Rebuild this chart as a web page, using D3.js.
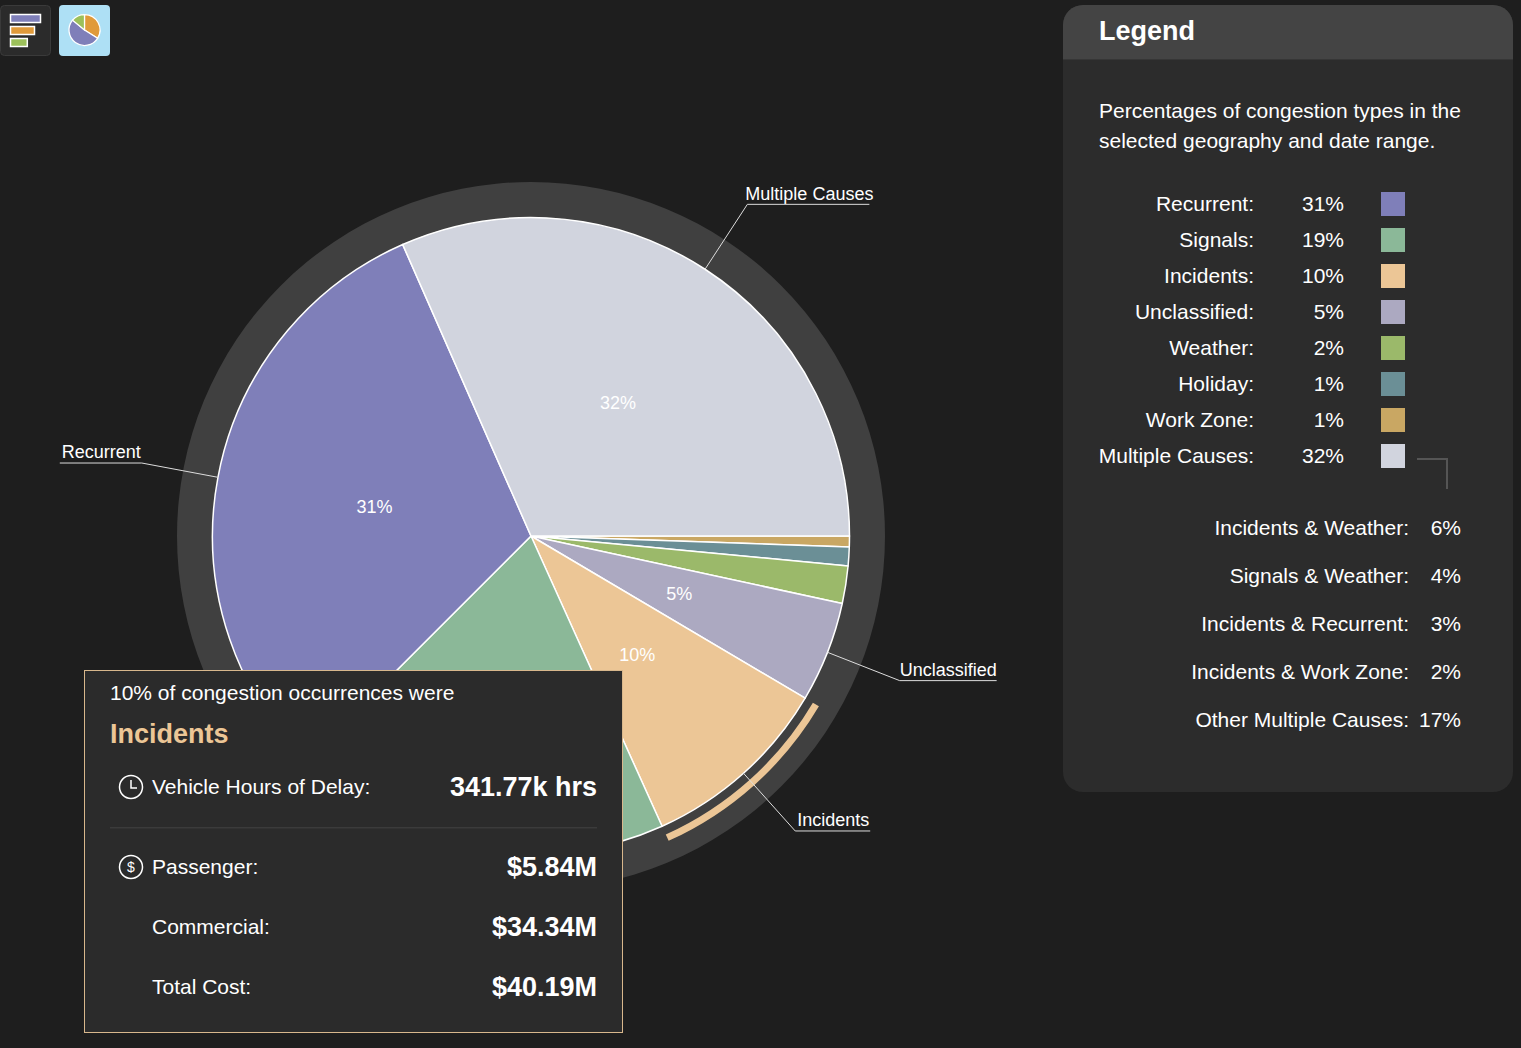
<!DOCTYPE html>
<html>
<head>
<meta charset="utf-8">
<script src="https://cdnjs.cloudflare.com/ajax/libs/d3/7.8.5/d3.min.js"></script>
<style>
  html, body { margin: 0; padding: 0; background: #1e1e1e; overflow: hidden; }
  svg { display: block; font-family: "Liberation Sans", Arial, sans-serif; }
  text { fill: #fff; }
</style>
</head>
<body>
<svg width="1521" height="1048"></svg>
<script>
// slices, clockwise from 3 o'clock
var categories = ['Work Zone', 'Holiday', 'Weather', 'Unclassified', 'Incidents', 'Signals', 'Recurrent', 'Multiple Causes'];
var shares     = [0.55, 0.95, 1.9, 5.1, 9.75, 19.25, 30.9, 31.6];
var colors     = ['#c9a763', '#6b8f96', '#9bb96a', '#aca9c1', '#ecc696', '#8bb898', '#7f7fb9', '#d1d4de'];

// labels outside the pie and inside the slices
var calloutNames = ['Multiple Causes', 'Recurrent', 'Unclassified', 'Incidents'];
var insideNames  = ['Multiple Causes', 'Recurrent', 'Unclassified', 'Incidents'];
var activeName   = 'Incidents';

// legend
var legendOrder  = ['Recurrent', 'Signals', 'Incidents', 'Unclassified', 'Weather', 'Holiday', 'Work Zone', 'Multiple Causes'];
var multiNames   = ['Incidents & Weather', 'Signals & Weather', 'Incidents & Recurrent', 'Incidents & Work Zone', 'Other Multiple Causes'];
var multiValues  = [6, 4, 3, 2, 17];

// tooltip
var tipLabels = ['Vehicle Hours of Delay:', 'Passenger:', 'Commercial:', 'Total Cost:'];
var tipValues = ['341.77k hrs', '$5.84M', '$34.34M', '$40.19M'];

// toolbar icons
var iconBars   = [100, 80, 56];
var iconSlices = [34, 52, 14];
var iconColors = ['#7f7fb9', '#e09a3a', '#9cc05a'];

var svg = d3.select('svg');
var fmt = d3.format('.0%');
var shareOf = function(name) { return shares[categories.indexOf(name)]; };
var colorOf = d3.scaleOrdinal().domain(categories).range(colors);

//----- pie
var cx = 531, cy = 536, radius = 318.5;
var g = svg.append('g').attr('transform', 'translate(' + cx + ',' + cy + ')');

var pie = d3.pie()
  .sort(null)
  .startAngle(Math.PI / 2)
  .endAngle(Math.PI * 2.5)
  .value(function(d) { return d.value; });

var arcs = pie(categories.map(function(c, i) { return { name: c, value: shares[i] }; }));

var arc = d3.arc().innerRadius(0).outerRadius(radius);
var ring = d3.arc().innerRadius(radius).outerRadius(354).startAngle(0).endAngle(Math.PI * 2);
var edge = d3.arc().innerRadius(radius).outerRadius(radius);
var elbow = d3.arc().innerRadius(396).outerRadius(396);
var highlight = d3.arc().innerRadius(327.5).outerRadius(334.5);

g.append('path').attr('d', ring()).attr('fill', '#404040');

g.selectAll('.slice')
  .data(arcs)
  .enter().append('path')
    .attr('class', 'slice')
    .attr('d', arc)
    .attr('fill', function(d) { return colorOf(d.data.name); })
    .attr('stroke', '#fff')
    .attr('stroke-width', 1.5)
    .attr('stroke-linejoin', 'round');

g.selectAll('.highlight')
  .data(arcs.filter(function(d) { return d.data.name === activeName; }))
  .enter().append('path')
    .attr('class', 'highlight')
    .attr('d', highlight)
    .attr('fill', function(d) { return colorOf(d.data.name); });

g.selectAll('.pct')
  .data(arcs.filter(function(d) { return insideNames.indexOf(d.data.name) >= 0; }))
  .enter().append('text')
    .attr('class', 'pct')
    .attr('transform', function(d) { return 'translate(' + arc.centroid(d) + ')'; })
    .attr('dy', '0.33em')
    .attr('text-anchor', 'middle')
    .style('font-size', '18px')
    .text(function(d) { return fmt(d.data.value / 100); });

// callouts: leader from the slice edge to an elbow, then an underline below the name
// dx, dy = text offset from the elbow, len = underline length
var calloutLayout = {
  'Multiple Causes': { dx: -2, dy: -4.5, len: 122 },
  'Recurrent':       { dx: -1, dy: -5.5, len: 82 },
  'Unclassified':    { dx: 0,  dy: -4.5, len: 97 },
  'Incidents':       { dx: 2,  dy: -4.5, len: 75 }
};

var callouts = g.selectAll('.callout')
  .data(arcs.filter(function(d) { return calloutNames.indexOf(d.data.name) >= 0; }))
  .enter().append('g')
    .attr('class', 'callout');

callouts.append('text')
  .attr('x', function(d) { return elbow.centroid(d)[0] + calloutLayout[d.data.name].dx; })
  .attr('y', function(d) { return elbow.centroid(d)[1] + calloutLayout[d.data.name].dy; })
  .attr('text-anchor', function(d) { return elbow.centroid(d)[0] < 0 ? 'end' : 'start'; })
  .style('font-size', '18px')
  .text(function(d) { return d.data.name; });

callouts.append('polyline')
  .attr('fill', 'none')
  .attr('stroke', '#ddd')
  .attr('stroke-width', 1)
  .attr('points', function(d) {
    var a = edge.centroid(d), b = elbow.centroid(d);
    var dir = b[0] < 0 ? -1 : 1;
    return [a, b, [b[0] + dir * calloutLayout[d.data.name].len, b[1]]].join(' ');
  });

//----- toolbar
var toolbar = svg.append('g');
toolbar.append('rect').attr('x', 0.5).attr('y', 5.5).attr('width', 50).attr('height', 50).attr('rx', 4)
  .attr('fill', '#2b2b2b').attr('stroke', '#3a3a3a');
toolbar.append('rect').attr('x', 59).attr('y', 5).attr('width', 51).attr('height', 51).attr('rx', 4)
  .attr('fill', '#aee0f5');

var iconX = d3.scaleLinear().domain([0, 100]).range([0, 30]);
toolbar.selectAll('.icon-bar')
  .data(iconBars)
  .enter().append('rect')
    .attr('class', 'icon-bar')
    .attr('x', 10.5)
    .attr('y', function(d, i) { return 14.5 + i * 12; })
    .attr('width', iconX)
    .attr('height', 8)
    .attr('fill', function(d, i) { return iconColors[i]; })
    .attr('stroke', '#fff')
    .attr('stroke-width', 1.5);

var iconPie = d3.pie().sort(null).value(function(d) { return d; });
var iconArc = d3.arc().innerRadius(0).outerRadius(15.5);
var iconFill = [iconColors[1], iconColors[0], iconColors[2]];
toolbar.append('g').attr('transform', 'translate(84.5,30)')
  .selectAll('path')
  .data(iconPie(iconSlices))
  .enter().append('path')
    .attr('d', iconArc)
    .attr('fill', function(d, i) { return iconFill[i]; })
    .attr('stroke', '#fff')
    .attr('stroke-width', 1.25);

//----- legend panel
var legend = svg.append('g');
legend.append('rect').attr('x', 1063).attr('y', 5).attr('width', 450).attr('height', 787).attr('rx', 20)
  .attr('fill', '#2c2c2c');
legend.append('path')
  .attr('d', 'M1063,59V25a20,20 0 0 1 20,-20H1493a20,20 0 0 1 20,20V59Z')
  .attr('fill', '#444');
legend.append('rect').attr('x', 1063).attr('y', 59).attr('width', 450).attr('height', 1).attr('fill', '#363636');

legend.append('text').attr('x', 1099).attr('y', 40).style('font-size', '27px').style('font-weight', 'bold').text('Legend');
legend.append('text').attr('x', 1099).attr('y', 118).style('font-size', '21px').text('Percentages of congestion types in the');
legend.append('text').attr('x', 1099).attr('y', 148).style('font-size', '21px').text('selected geography and date range.');

var rowY = d3.scalePoint().domain(legendOrder).range([192, 444]);
var rows = legend.selectAll('.row')
  .data(legendOrder)
  .enter().append('g')
    .attr('class', 'row')
    .attr('transform', function(d) { return 'translate(0,' + rowY(d) + ')'; });
rows.append('text').attr('x', 1254).attr('y', 19).attr('text-anchor', 'end').style('font-size', '21px')
  .text(function(d) { return d + ':'; });
rows.append('text').attr('x', 1344).attr('y', 19).attr('text-anchor', 'end').style('font-size', '21px')
  .text(function(d) { return fmt(shareOf(d) / 100); });
rows.append('rect').attr('x', 1381).attr('width', 24).attr('height', 24)
  .attr('fill', function(d) { return colorOf(d); });

legend.append('path').attr('d', 'M1417,459H1447V489').attr('fill', 'none').attr('stroke', '#555').attr('stroke-width', 2);

var multiY = d3.scalePoint().domain(multiNames).range([535, 727]);
var multi = legend.selectAll('.multi')
  .data(multiNames)
  .enter().append('g')
    .attr('class', 'multi')
    .attr('transform', function(d) { return 'translate(0,' + multiY(d) + ')'; });
multi.append('text').attr('x', 1409).attr('text-anchor', 'end').style('font-size', '21px')
  .text(function(d) { return d + ':'; });
multi.append('text').attr('x', 1461).attr('text-anchor', 'end').style('font-size', '21px')
  .text(function(d, i) { return multiValues[i] + '%'; });

//----- tooltip
var tip = svg.append('g');
tip.append('rect').attr('x', 84.5).attr('y', 670.5).attr('width', 538).attr('height', 362)
  .attr('fill', '#2b2b2b').attr('stroke', '#d8b78c');

tip.append('text').attr('x', 110).attr('y', 700).style('font-size', '21px')
  .text(fmt(shareOf(activeName) / 100) + ' of congestion occurrences were');
tip.append('text').attr('x', 110).attr('y', 743).style('font-size', '27px').style('font-weight', 'bold')
  .style('fill', colorOf(activeName)).text(activeName);

var tipY = [794, 874, 934, 994];
tipLabels.forEach(function(label, i) {
  tip.append('text').attr('x', 152).attr('y', tipY[i]).style('font-size', '21px').text(label);
  tip.append('text').attr('x', 597).attr('y', tipY[i] + 2).attr('text-anchor', 'end')
    .style('font-size', '27px').style('font-weight', 'bold').text(tipValues[i]);
});
tip.append('rect').attr('x', 110).attr('y', 827).attr('width', 487).attr('height', 1.5).attr('fill', '#3b3b3b');

// clock and dollar icons
tip.append('circle').attr('cx', 131).attr('cy', 787).attr('r', 11.5).attr('fill', 'none').attr('stroke', '#fff').attr('stroke-width', 1.5);
tip.append('path').attr('d', 'M131,780V788H137').attr('fill', 'none').attr('stroke', '#fff').attr('stroke-width', 1.5);
tip.append('circle').attr('cx', 131).attr('cy', 867).attr('r', 11.5).attr('fill', 'none').attr('stroke', '#fff').attr('stroke-width', 1.5);
tip.append('text').attr('x', 131).attr('y', 872).attr('text-anchor', 'middle').style('font-size', '14px').text('$');
</script>
</body>
</html>
